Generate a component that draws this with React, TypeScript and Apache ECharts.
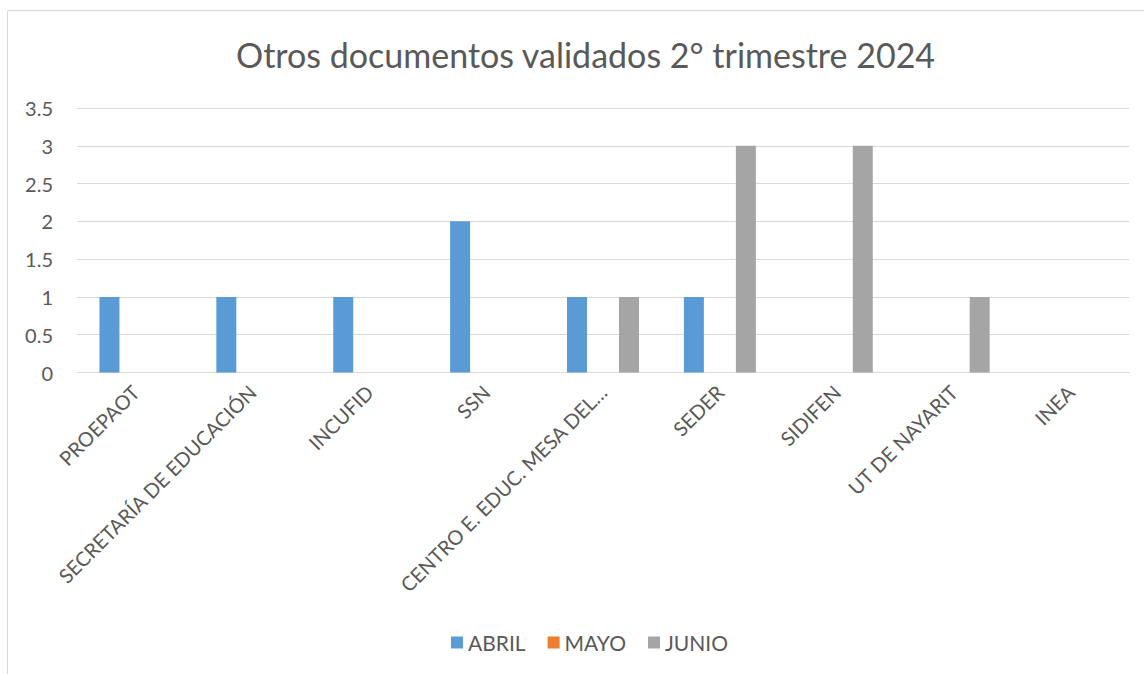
import React, { useEffect, useRef } from "react";
import * as echarts from "echarts";

const categories = [
  "PROEPAOT",
  "SECRETARÍA DE EDUCACIÓN",
  "INCUFID",
  "SSN",
  "CENTRO E. EDUC. MESA DEL…",
  "SEDER",
  "SIDIFEN",
  "UT DE NAYARIT",
  "INEA",
];
const abril = [1, 1, 1, 2, 1, 1, 0, 0, 0];
const mayo = [0, 0, 0, 0, 0, 0, 0, 0, 0];
const junio = [0, 0, 0, 0, 1, 3, 3, 1, 0];
const seriesNames = ["ABRIL", "MAYO", "JUNIO"];
const colors = ["#5B9BD5", "#ED7D31", "#A5A5A5"];
const title = "Otros documentos validados 2° trimestre 2024";

const FONT = "Lato, 'Open Sans', sans-serif";

export default function App() {
  const ref = useRef<HTMLDivElement>(null);
  useEffect(() => {
    if (!ref.current) return;
    const chart = echarts.init(ref.current, undefined, { renderer: "svg" });
    const data = [abril, mayo, junio];
    chart.setOption({
      animation: false,
      backgroundColor: "#ffffff",
      textStyle: { fontFamily: FONT },
      color: colors,
      title: {
        text: title,
        left: 231,
        top: 32,
        textStyle: { fontFamily: FONT, fontSize: 34, fontWeight: "normal", color: "#595959" },
      },
      graphic: [
        {
          type: "rect",
          shape: { x: 7.5, y: 10.5, width: 1150, height: 680 },
          style: { fill: "none", stroke: "#d9d9d9", lineWidth: 1 },
          silent: true,
        },
      ],
      legend: {
        bottom: 16,
        left: 446,
        itemWidth: 12,
        itemHeight: 12,
        itemGap: 22,
        icon: "rect",
        textStyle: { fontFamily: FONT, fontSize: 21, color: "#595959" },
        data: seriesNames,
      },
      grid: { left: 77, right: 15, top: 108, bottom: 301.5, containLabel: false },
      xAxis: {
        type: "category",
        data: categories,
        axisLine: { lineStyle: { color: "#d9d9d9", width: 1 } },
        axisTick: { show: false },
        axisLabel: {
          rotate: 45,
          interval: 0,
          margin: 16,
          fontFamily: FONT,
          fontSize: 20,
          color: "#595959",
        },
      },
      yAxis: {
        type: "value",
        min: 0,
        max: 3.5,
        interval: 0.5,
        axisLine: { show: false },
        axisTick: { show: false },
        splitLine: { lineStyle: { color: "#d9d9d9", width: 1 } },
        axisLabel: { margin: 24, fontFamily: FONT, fontSize: 20, color: "#595959" },
      },
      series: seriesNames.map((name, i) => ({
        name,
        type: "bar",
        data: data[i],
        barWidth: 20,
        barGap: "30%",
        itemStyle: { color: colors[i] },
      })),
    });
    return () => chart.dispose();
  }, []);
  return (
    <div
      ref={ref}
      style={{ position: "absolute", left: 0, top: 0, width: 1144, height: 674 }}
    />
  );
}
